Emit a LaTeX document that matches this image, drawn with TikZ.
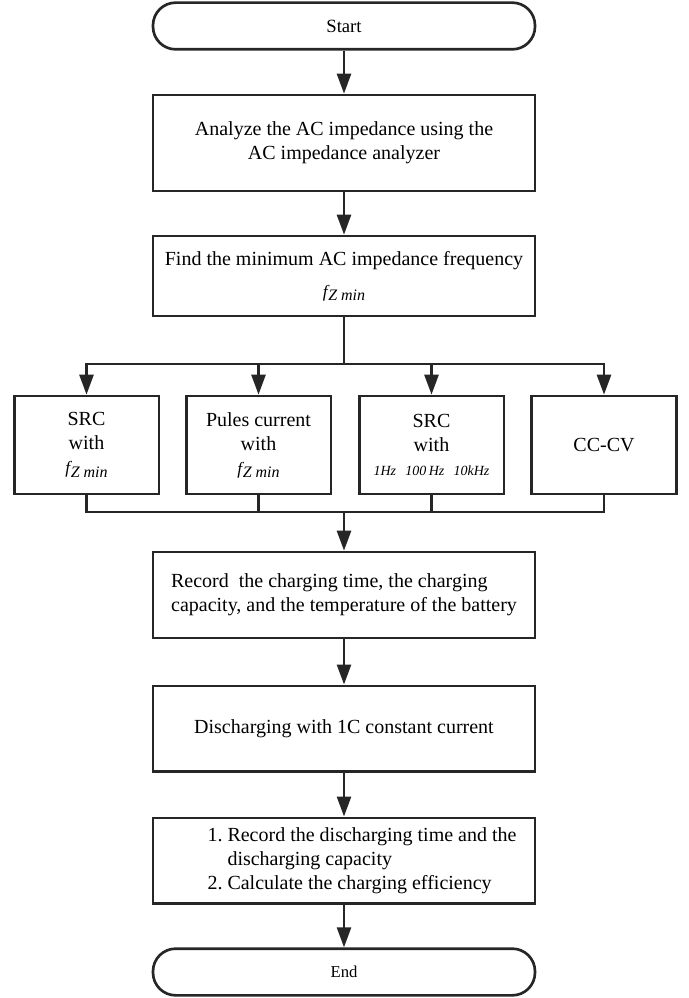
\documentclass[tikz,border=0pt]{standalone}
\usepackage{fontspec}
\setmainfont{Liberation Serif}
\usetikzlibrary{arrows.meta}
\newcommand{\fzmin}{{\fontsize{13}{15}\selectfont\itshape f\kern0.5pt\raisebox{-2.5pt}{\fontsize{12}{14}\selectfont Z min}}}

\begin{document}
\begin{tikzpicture}[x=0.75pt,y=-0.75pt,>={Triangle[length=15pt,width=10.5pt]},
    every node/.style={font=\fontsize{15}{18}\selectfont},
    stepbox/.style={draw=black!85,line width=2pt,minimum width=286.5pt,align=center},
    smallbox/.style={draw=black!85,line width=2pt,minimum width=108.5pt,minimum height=73.5pt,align=center},
    terminal/.style={draw=black!85,line width=2pt,rounded corners=17pt,minimum width=286.5pt},
    link/.style={draw=black!85,line width=2pt}]
    \useasboundingbox (0,0) rectangle (688,998);
    % main column
    \node[terminal,minimum height=35pt,font=\fontsize{14}{17}\selectfont] (start) at (344,26) {Start};
    \node[stepbox,minimum height=72pt] (analyze) at (344,143) {Analyze the AC impedance using the\\AC impedance analyzer};
    \node[stepbox,minimum height=60pt] (find) at (344,276) {Find the minimum AC impedance frequency\\[6pt]\fzmin};
    % the four charging methods
    \node[smallbox] (src) at (86.5,445) {SRC\\with\\\fzmin};
    \node[smallbox] (pulse) at (258.5,445) {Pules current\\with\\\fzmin};
    \node[smallbox] (srcf) at (431.5,445) {SRC\\with\\{\fontsize{10.5}{13}\selectfont\itshape 1Hz\hspace{7pt}100\,Hz\hspace{7pt}10kHz}};
    \node[smallbox] (cccv) at (604,445) {CC-CV};
    \coordinate (split) at (344,364);
    \coordinate (merge) at (344,512);
    % lower column
    \node[stepbox,minimum height=64.5pt,align=left] (record) at (344,595) {Record~ the charging time, the charging\\capacity, and the temperature of the battery};
    \node[stepbox,minimum height=64pt] (discharge) at (344,728.5) {Discharging with 1C constant current};
    \node[stepbox,minimum height=64pt] (calc) at (344,860.5) {\hspace*{27pt}\begin{tabular}{@{}r@{~}l@{}}1. & Record the discharging time and the\\ & discharging capacity\\2. & Calculate the charging efficiency\end{tabular}};
    \node[terminal,minimum height=35pt,font=\fontsize{12.5}{15}\selectfont] (end) at (344,972) {End};

    \draw[link,->] (start) -- (analyze);
    \draw[link,->] (analyze) -- (find);
    \draw[link] (find) -- (split);
    \foreach \n in {src,pulse,srcf,cccv}{
        \draw[link,->] (split) -| (\n);
        \draw[link] (\n) |- (merge);
    }
    \draw[link,->] (merge) -- (record);
    \draw[link,->] (record) -- (discharge);
    \draw[link,->] (discharge) -- (calc);
    \draw[link,->] (calc) -- (end);
\end{tikzpicture}
\end{document}
